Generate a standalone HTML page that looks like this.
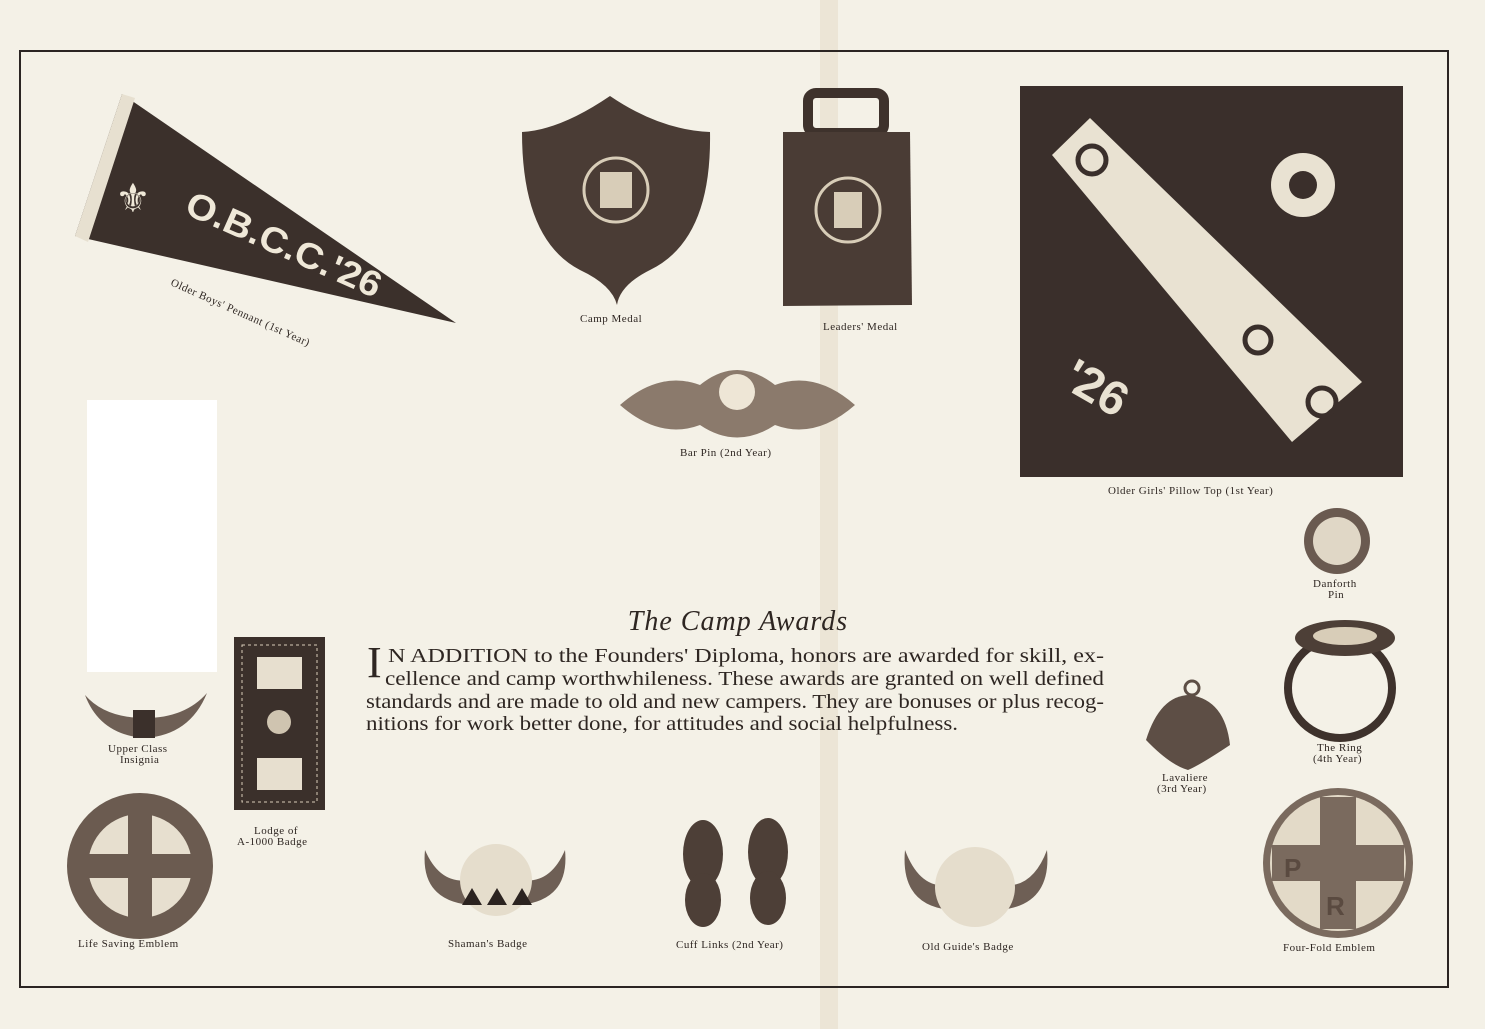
<!DOCTYPE html>
<html><head><meta charset="utf-8"><style>
html,body{margin:0;padding:0;background:#f4f1e7;}
svg{display:block}
text{font-family:"Liberation Serif",serif;fill:#2e2622}
.l{font-size:11px;letter-spacing:0.5px}
</style></head><body>
<svg width="1485" height="1029" viewBox="0 0 1485 1029">
<rect width="1485" height="1029" fill="#f4f1e7"/>
<rect x="820" y="0" width="18" height="1029" fill="#ece5d6"/>
<rect x="20" y="51" width="1428" height="936" fill="none" stroke="#2b2523" stroke-width="2"/>
<rect x="87" y="400" width="130" height="272" fill="#ffffff"/>

<!-- Pennant -->
<polygon points="75,236 122,94 456,323" fill="#3b302b"/>
<polygon points="75,236 122,94 135,98 88,242" fill="#e7e0d0"/>
<text x="0" y="0" transform="translate(183,213) rotate(24)" textLength="210" lengthAdjust="spacingAndGlyphs" style="font-family:'Liberation Sans',sans-serif;font-weight:bold;font-size:36px;fill:#efe8d8">O.B.C.C.'26</text>
<text x="115" y="212" style="font-size:40px;fill:#efe8d8">⚜</text>
<text class="l" transform="translate(170,285) rotate(24)">Older Boys' Pennant (1st Year)</text>

<!-- Camp Medal -->
<path d="M522,132 Q560,130 610,96 Q660,130 710,132 Q712,240 650,270 Q620,285 617,305 Q612,285 580,270 Q522,240 522,132Z" fill="#4a3c35"/>
<circle cx="616" cy="190" r="32" fill="none" stroke="#d8cdb8" stroke-width="3"/>
<rect x="600" y="172" width="32" height="36" fill="#d8cdb8"/>
<text class="l" x="580" y="322">Camp Medal</text>

<!-- Leaders medal -->
<rect x="808" y="93" width="76" height="40" rx="8" fill="none" stroke="#3e322c" stroke-width="10"/>
<path d="M783,132 L910,132 L912,305 L783,306Z" fill="#4a3c35"/>
<circle cx="848" cy="210" r="32" fill="none" stroke="#d8cdb8" stroke-width="3"/>
<rect x="834" y="192" width="28" height="36" fill="#d8cdb8"/>
<text class="l" x="823" y="330">Leaders' Medal</text>

<!-- Bar pin -->
<path d="M620,405 Q660,370 700,385 Q737,355 775,385 Q815,370 855,405 Q815,440 775,425 Q737,450 700,425 Q660,440 620,405Z" fill="#8b7a6c"/>
<circle cx="737" cy="392" r="18" fill="#eee6d6"/>
<text class="l" x="680" y="456">Bar Pin (2nd Year)</text>

<!-- Pillow top -->
<rect x="1020" y="86" width="383" height="391" fill="#3a2f2b"/>
<polygon points="1052,155 1090,118 1362,382 1292,442" fill="#e9e2d2"/>
<circle cx="1303" cy="185" r="32" fill="#e9e2d2"/>
<circle cx="1303" cy="185" r="14" fill="#3a2f2b"/>
<circle cx="1092" cy="160" r="14" fill="none" stroke="#3a2f2b" stroke-width="5"/>
<circle cx="1258" cy="340" r="13" fill="none" stroke="#3a2f2b" stroke-width="5"/>
<circle cx="1322" cy="402" r="14" fill="none" stroke="#3a2f2b" stroke-width="5"/>
<text x="1070" y="410" transform="rotate(30 1110 380)" style="font-family:'Liberation Sans',sans-serif;font-weight:bold;font-size:48px;fill:#e9e2d2">'26</text>
<text class="l" x="1108" y="494">Older Girls' Pillow Top (1st Year)</text>

<!-- Danforth -->
<circle cx="1337" cy="541" r="33" fill="#6a5a50"/>
<circle cx="1337" cy="541" r="24" fill="#e0d7c6"/>
<text class="l" x="1313" y="587">Danforth</text>
<text class="l" x="1328" y="598">Pin</text>

<!-- Title & paragraph -->
<text x="738" y="630" text-anchor="middle" style="font-style:italic;font-size:28px;letter-spacing:1px">The Camp Awards</text>
<text x="367" y="677" style="font-size:44px">I</text>
<text x="388" y="662" style="font-size:20px" textLength="716" lengthAdjust="spacingAndGlyphs">N ADDITION to the Founders' Diploma, honors are awarded for skill, ex-</text>
<text x="385" y="685" style="font-size:20px" textLength="719" lengthAdjust="spacingAndGlyphs">cellence and camp worthwhileness.  These awards are granted on well defined</text>
<text x="366" y="708" style="font-size:20px" textLength="738" lengthAdjust="spacingAndGlyphs">standards and are made to old and new campers.  They are bonuses or plus recog-</text>
<text x="366" y="730" style="font-size:20px" textLength="592" lengthAdjust="spacingAndGlyphs">nitions for work better done, for attitudes and social helpfulness.</text>

<!-- Upper class insignia -->
<path d="M85,695 Q100,735 145,738 Q190,735 207,693 Q185,718 145,718 Q105,718 85,695Z" fill="#6e5f55"/>
<rect x="133" y="710" width="22" height="28" fill="#3b302b"/>
<text class="l" x="108" y="752">Upper Class</text>
<text class="l" x="120" y="763">Insignia</text>

<!-- Lodge badge -->
<rect x="234" y="637" width="91" height="173" fill="#3b302b"/>
<rect x="242" y="645" width="75" height="157" fill="none" stroke="#d8cdb8" stroke-dasharray="3,3"/>
<rect x="257" y="657" width="45" height="32" fill="#e7dfcf"/>
<rect x="257" y="758" width="45" height="32" fill="#e7dfcf"/>
<circle cx="279" cy="722" r="12" fill="#cfc4b0"/>
<text class="l" x="254" y="834">Lodge of</text>
<text class="l" x="237" y="845">A-1000  Badge</text>

<!-- Life saving -->
<circle cx="140" cy="866" r="73" fill="#6b5b50"/>
<circle cx="140" cy="866" r="52" fill="#e7dfcf"/>
<rect x="128" y="814" width="24" height="104" fill="#6b5b50"/>
<rect x="88" y="854" width="104" height="24" fill="#6b5b50"/>
<text class="l" x="78" y="947">Life  Saving  Emblem</text>

<!-- Shaman's badge -->
<path d="M425,850 Q420,900 470,905 L520,905 Q570,900 565,850 Q550,885 520,880 L470,880 Q440,885 425,850Z" fill="#6e5f55"/>
<circle cx="496" cy="880" r="36" fill="#e5ddcc"/>
<polygon points="462,905 472,888 482,905 487,905 497,888 507,905 512,905 522,888 532,905" fill="#2b2320"/>
<text class="l" x="448" y="947">Shaman's Badge</text>

<!-- Cuff links -->
<ellipse cx="703" cy="854" rx="20" ry="34" fill="#4d3f37"/>
<ellipse cx="703" cy="900" rx="18" ry="27" fill="#4d3f37"/>
<ellipse cx="768" cy="852" rx="20" ry="34" fill="#4d3f37"/>
<ellipse cx="768" cy="898" rx="18" ry="27" fill="#4d3f37"/>
<text class="l" x="676" y="948">Cuff Links (2nd Year)</text>

<!-- Old guide -->
<path d="M905,850 Q900,905 950,910 L1000,910 Q1052,905 1047,850 Q1032,890 1000,885 L950,885 Q920,890 905,850Z" fill="#6e5f55"/>
<circle cx="975" cy="887" r="40" fill="#e5ddcc"/>
<text class="l" x="922" y="950">Old Guide's Badge</text>

<!-- Lavaliere -->
<path d="M1146,740 Q1160,695 1190,695 Q1225,700 1230,745 Q1200,765 1188,770 Q1170,765 1146,740Z" fill="#5d4e45"/>
<circle cx="1192" cy="688" r="7" fill="none" stroke="#5d4e45" stroke-width="3"/>
<text class="l" x="1162" y="781">Lavaliere</text>
<text class="l" x="1157" y="792">(3rd Year)</text>

<!-- Ring -->
<ellipse cx="1340" cy="688" rx="52" ry="50" fill="none" stroke="#3e322c" stroke-width="8"/>
<ellipse cx="1345" cy="638" rx="50" ry="18" fill="#4d3f37"/>
<ellipse cx="1345" cy="636" rx="32" ry="9" fill="#d8cdb8"/>
<text class="l" x="1317" y="751">The  Ring</text>
<text class="l" x="1313" y="762">(4th  Year)</text>

<!-- Four-fold -->
<circle cx="1338" cy="863" r="75" fill="#7a6a5e"/>
<circle cx="1338" cy="863" r="68" fill="#e3dac8"/>
<rect x="1320" y="797" width="36" height="132" fill="#7a6a5e"/>
<rect x="1272" y="845" width="132" height="36" fill="#7a6a5e"/>
<text x="1284" y="877" style="font-family:'Liberation Sans',sans-serif;font-weight:bold;font-size:26px;fill:#5a4a40">P</text>
<text x="1326" y="915" style="font-family:'Liberation Sans',sans-serif;font-weight:bold;font-size:26px;fill:#5a4a40">R</text>
<text class="l" x="1283" y="951">Four-Fold  Emblem</text>
</svg>
</body></html>
